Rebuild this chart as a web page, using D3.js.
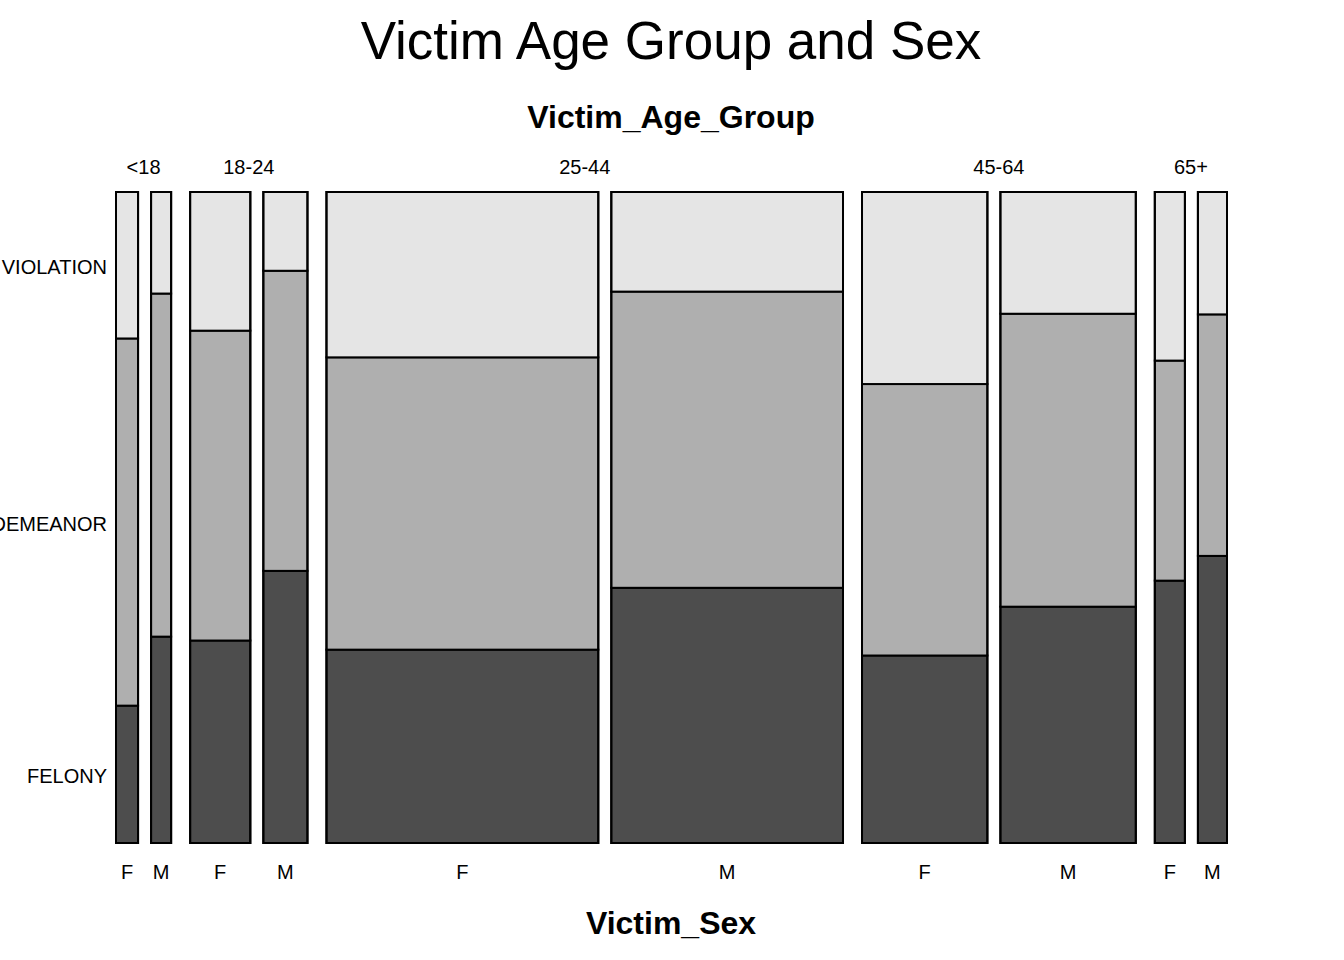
<!DOCTYPE html>
<html>
<head>
<meta charset="utf-8">
<script src="https://cdn.jsdelivr.net/npm/d3@7"></script>
<style>
  body { margin: 0; background: #fff; }
  svg { font-family: "Liberation Sans", Arial, sans-serif; }
</style>
</head>
<body>
<div id="chart"></div>
<script>
// age groups across the top, sex under each group
const ageGroups = ['<18', '18-24', '25-44', '45-64', '65+']
const sexes = ['F', 'M']
// stacked bottom to top
const lawCats = ['FELONY', 'MISDEMEANOR', 'VIOLATION']

// relative width of each age/sex column (share of victims)
const colShare = [24, 22, 62, 46, 273, 233, 127, 137, 32, 31]

// share of each law category inside each column, same order as colShare
const felonyShare = [0.211, 0.317, 0.311, 0.418, 0.297, 0.392, 0.288, 0.363, 0.403, 0.441]
const misdemeanorShare = [0.564, 0.527, 0.476, 0.461, 0.449, 0.455, 0.417, 0.450, 0.338, 0.371]
const violationShare = [0.225, 0.156, 0.213, 0.121, 0.254, 0.153, 0.296, 0.187, 0.259, 0.188]

const fills = ['#4D4D4D', '#AFAFAF', '#E5E5E5']

const W = 1344
const H = 960
const plotLeft = 115
const plotRight = 1228
const plotTop = 191
const plotBottom = 844
const innerGap = 11
const outerGap = 17

const svg = d3.select('#chart')
	.append('svg')
	.attr('width', W)
	.attr('height', H)

// build the columns
const cols = []
ageGroups.forEach((a, i) => {
	sexes.forEach((s, j) => {
		const k = i * 2 + j
		cols.push({
			age: a, sex: s, idx: k,
			share: colShare[k],
			parts: [felonyShare[k], misdemeanorShare[k], violationShare[k]]
		})
	})
})

const totalGap = innerGap * ageGroups.length + outerGap * (ageGroups.length - 1)
const totalShare = d3.sum(colShare)
const x = d3.scaleLinear().domain([0, totalShare]).range([0, plotRight - plotLeft - totalGap])
// inset by half the stroke so borders sit inside the plot box
const y = d3.scaleLinear().domain([0, 1]).range([plotBottom - 1, plotTop + 1])

let cum = 0
cols.forEach((c, k) => {
	const gaps = Math.floor(k / 2) * (innerGap + outerGap) + (k % 2) * innerGap
	c.x0 = plotLeft + gaps + x(cum)
	cum += c.share
	c.x1 = plotLeft + gaps + x(cum)
	let acc = 0
	c.tiles = c.parts.map((p, m) => {
		const t = { cat: lawCats[m], y0: acc, y1: Math.min(1, acc + p), fill: fills[m] }
		acc += p
		return t
	})
})

// draw the tiles
const colG = svg.selectAll('g.col')
	.data(cols)
	.enter()
	.append('g')
	.attr('class', 'col')

colG.selectAll('rect')
	.data(d => d.tiles.map(t => Object.assign({ x0: d.x0, x1: d.x1 }, t)))
	.enter()
	.append('rect')
	.attr('x', d => d.x0 + 1)
	.attr('y', d => y(d.y1))
	.attr('width', d => d.x1 - d.x0 - 2)
	.attr('height', d => y(d.y0) - y(d.y1))
	.attr('fill', d => d.fill)
	.attr('stroke', '#000')
	.attr('stroke-width', 2)

// outline of each column
colG.append('rect')
	.attr('x', d => d.x0 + 1)
	.attr('y', y(1))
	.attr('width', d => d.x1 - d.x0 - 2)
	.attr('height', y(0) - y(1))
	.attr('fill', 'none')
	.attr('stroke', '#000')
	.attr('stroke-width', 2)

// sex labels under columns
svg.selectAll('text.sex')
	.data(cols)
	.enter()
	.append('text')
	.attr('class', 'sex')
	.attr('x', d => (d.x0 + d.x1) / 2)
	.attr('y', 879)
	.attr('text-anchor', 'middle')
	.style('font-size', '20px')
	.text(d => d.sex)

// age labels above groups
svg.selectAll('text.age')
	.data(ageGroups)
	.enter()
	.append('text')
	.attr('class', 'age')
	.attr('x', (d, i) => (cols[i * 2].x0 + cols[i * 2 + 1].x1) / 2)
	.attr('y', 174)
	.attr('text-anchor', 'middle')
	.style('font-size', '20px')
	.text(d => d)

// law category labels at left, centred on first column
svg.selectAll('text.cat')
	.data(cols[0].tiles)
	.enter()
	.append('text')
	.attr('class', 'cat')
	.attr('x', 107)
	.attr('y', d => (y(d.y0) + y(d.y1)) / 2 + 9)
	.attr('text-anchor', 'end')
	.style('font-size', '20px')
	.text(d => d.cat)

svg.append('text')
	.attr('x', 671)
	.attr('y', 59)
	.attr('text-anchor', 'middle')
	.style('font-size', '53px')
	.text('Victim Age Group and Sex')

svg.append('text')
	.attr('x', 671)
	.attr('y', 128)
	.attr('text-anchor', 'middle')
	.style('font-size', '32px')
	.style('font-weight', 'bold')
	.text('Victim_Age_Group')

svg.append('text')
	.attr('x', 671)
	.attr('y', 934)
	.attr('text-anchor', 'middle')
	.style('font-size', '32px')
	.style('font-weight', 'bold')
	.text('Victim_Sex')
</script>
</body>
</html>
